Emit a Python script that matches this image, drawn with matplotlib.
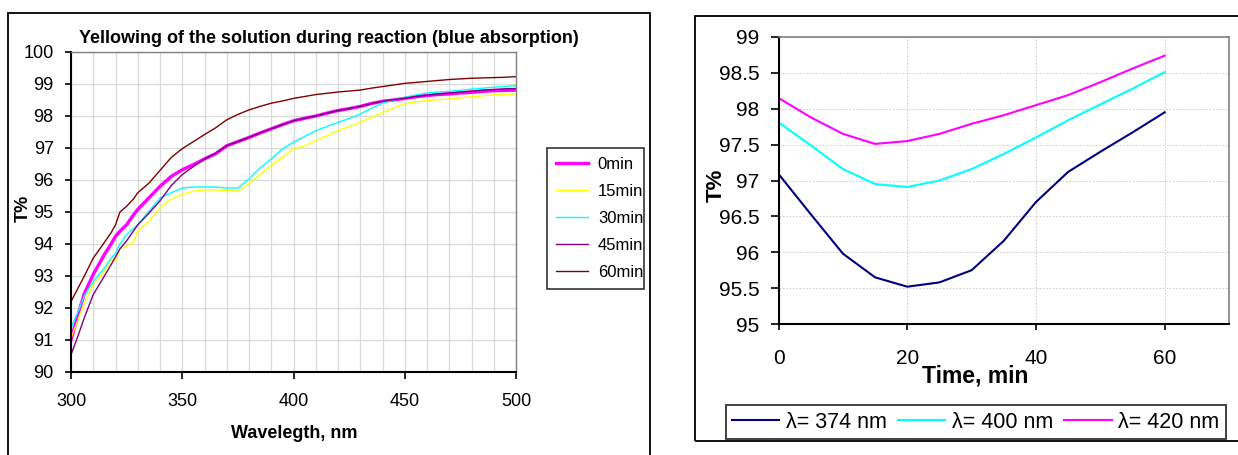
import numpy as np
import matplotlib
matplotlib.use('Agg')
import matplotlib.pyplot as plt
from matplotlib.patches import Rectangle
from matplotlib.ticker import MultipleLocator

plt.rcParams['font.family'] = ['Liberation Sans', 'DejaVu Sans']

W, H = 1238, 455

# ---------------- left panel: spectra ----------------
wavelength = [300, 303, 306, 310, 315, 318, 320, 322, 325, 328, 330, 335, 340, 345,
              350, 355, 360, 365, 370, 375, 380, 385, 390, 395, 400, 405, 410, 415,
              420, 425, 430, 435, 440, 445, 450, 455, 460, 465, 470, 475, 480, 485,
              490, 495, 500]

t_0min = [91.0, 91.75, 92.45, 93.05, 93.67, 94.0, 94.24, 94.4, 94.6, 94.9, 95.08, 95.44,
          95.8, 96.11, 96.32, 96.48, 96.66, 96.82, 97.07, 97.2, 97.33, 97.47, 97.6, 97.73,
          97.85, 97.93, 98.0, 98.09, 98.17, 98.23, 98.3, 98.39, 98.46, 98.5, 98.55, 98.6,
          98.64, 98.67, 98.69, 98.72, 98.74, 98.77, 98.79, 98.8, 98.81]
t_15min = [91.06, 91.6, 92.17, 92.73, 93.15, 93.5, 93.46, 93.85, 93.93, 94.05, 94.4, 94.71,
           95.13, 95.4, 95.55, 95.65, 95.69, 95.69, 95.67, 95.65, 95.88, 96.17, 96.45, 96.71,
           96.97, 97.07, 97.23, 97.38, 97.54, 97.67, 97.8, 97.96, 98.11, 98.25, 98.38, 98.44,
           98.48, 98.51, 98.53, 98.57, 98.6, 98.63, 98.66, 98.68, 98.69]
t_30min = [91.38, 91.86, 92.38, 92.83, 93.25, 93.55, 93.72, 94.0, 94.29, 94.48, 94.6, 95.02,
           95.44, 95.6, 95.75, 95.78, 95.78, 95.78, 95.75, 95.75, 96.03, 96.38, 96.66, 96.97,
           97.18, 97.36, 97.54, 97.67, 97.8, 97.92, 98.06, 98.24, 98.4, 98.5, 98.58, 98.66,
           98.72, 98.75, 98.77, 98.8, 98.84, 98.87, 98.9, 98.92, 98.95]
t_45min = [90.54, 91.1, 91.7, 92.42, 93.0, 93.35, 93.6, 93.85, 94.1, 94.4, 94.6, 94.96,
           95.35, 95.82, 96.17, 96.42, 96.65, 96.84, 97.07, 97.2, 97.33, 97.47, 97.6, 97.73,
           97.85, 97.93, 98.0, 98.09, 98.17, 98.23, 98.3, 98.39, 98.46, 98.51, 98.56, 98.61,
           98.65, 98.69, 98.72, 98.75, 98.78, 98.81, 98.83, 98.85, 98.86]
t_60min = [92.2, 92.6, 93.0, 93.56, 94.05, 94.35, 94.6, 95.0, 95.18, 95.4, 95.6, 95.9,
           96.3, 96.7, 96.98, 97.2, 97.42, 97.63, 97.88, 98.05, 98.19, 98.3, 98.4, 98.47,
           98.55, 98.61, 98.67, 98.71, 98.75, 98.78, 98.81, 98.87, 98.92, 98.97, 99.02, 99.05,
           99.08, 99.11, 99.14, 99.16, 99.18, 99.19, 99.2, 99.21, 99.23]

spec_labels = ['0min', '15min', '30min', '45min', '60min']
spec_colors = ['#FF00FF', '#FFFF00', '#00FFFF', '#800080', '#800000']
spec_widths = [2.4, 1.0, 1.0, 1.0, 1.0]

# ---------------- right panel: kinetics ----------------
time_min = [0, 5, 10, 15, 20, 25, 30, 35, 40, 45, 50, 55, 60]
t_374 = [97.09, 96.53, 95.98, 95.65, 95.52, 95.58, 95.75, 96.16, 96.7, 97.12, 97.4, 97.67, 97.95]
t_400 = [97.81, 97.49, 97.16, 96.95, 96.91, 97.0, 97.16, 97.37, 97.6, 97.84, 98.06, 98.28, 98.51]
t_420 = [98.15, 97.88, 97.65, 97.51, 97.55, 97.65, 97.79, 97.91, 98.05, 98.19, 98.37, 98.56, 98.74]
kin_labels = ['λ= 374 nm', 'λ= 400 nm', 'λ= 420 nm']
kin_colors = ['#000080', '#00FFFF', '#FF00FF']
kin_yticks = [95, 95.5, 96, 96.5, 97, 97.5, 98, 98.5, 99]


def px(x0, y0, x1, y1):
    return [x0 / W, 1 - y1 / H, (x1 - x0) / W, (y1 - y0) / H]


fig = plt.figure(figsize=(W / 100, H / 100), dpi=100)

# outer chart frames
fig.patches.append(Rectangle((8 / W, -0.05), (650 - 8) / W, 1.05 - 13 / H, transform=fig.transFigure,
                             fill=False, ec='black', lw=1.3))
fig.patches.append(Rectangle((695 / W, 1 - 441 / H), (1260 - 695) / W, (441 - 16) / H,
                             transform=fig.transFigure, fill=False, ec='black', lw=1.3,
                             clip_on=False))

# ---- left axes
ax1 = fig.add_axes(px(71, 52, 516, 372))
for vals, lab, col, lw in zip([t_0min, t_15min, t_30min, t_45min, t_60min],
                              spec_labels, spec_colors, spec_widths):
    ax1.plot(wavelength, vals, color=col, lw=lw, label=lab)
ax1.set_xlim(300, 500)
ax1.set_ylim(90, 100)
ax1.set_xticks([300, 350, 400, 450, 500])
ax1.xaxis.set_minor_locator(MultipleLocator(10))
ax1.set_yticks(range(90, 101))
ax1.grid(which='both', color='#d9d9d9', lw=0.9)
ax1.set_axisbelow(True)
ax1.tick_params(which='minor', length=0)
ax1.tick_params(axis='x', which='major', direction='out', length=5, width=1.2, pad=10, labelsize=13)
ax1.tick_params(axis='y', direction='out', length=4.5, width=1.2, pad=8, labelsize=13)
for s in ['top', 'right']:
    ax1.spines[s].set_color('#808080')
    ax1.spines[s].set_linewidth(1.0)
for s in ['left', 'bottom']:
    ax1.spines[s].set_linewidth(1.5)

fig.text(329 / W, 1 - 38.5 / H, 'Yellowing of the solution during reaction (blue absorption)',
         ha='center', va='center', fontsize=13, fontweight='bold')
fig.text(23 / W, 1 - 208 / H, 'T%', rotation=90, ha='center', va='center',
         fontsize=13, fontweight='bold')
fig.text(294 / W, 1 - 434 / H, 'Wavelegth, nm', ha='center', va='center',
         fontsize=13, fontweight='bold')

leg1 = ax1.legend(loc='upper left', bbox_to_anchor=(547 / W, 1 - 290 / H, (644 - 547) / W, (290 - 148) / H),
                  bbox_transform=fig.transFigure, mode='expand', fontsize=12, frameon=True,
                  fancybox=False, edgecolor='black', borderpad=0.55, labelspacing=0.72,
                  handlelength=1.9, handletextpad=0.6, borderaxespad=0)
leg1.get_frame().set_linewidth(1.2)

# ---- right axes
ax2 = fig.add_axes(px(778.6, 37, 1229, 324))
for vals, lab, col in zip([t_374, t_400, t_420], kin_labels, kin_colors):
    ax2.plot(time_min, vals, color=col, lw=1.5, label=lab)
ax2.set_xlim(0, 70)
ax2.set_ylim(95, 99)
ax2.set_xticks([0, 20, 40, 60])
ax2.set_yticks(kin_yticks)
ax2.set_yticklabels([f'{v:g}' for v in kin_yticks])
ax2.grid(color='#c8c8c8', ls=(0, (2, 2)), lw=0.6)
ax2.set_axisbelow(True)
ax2.tick_params(axis='x', direction='out', length=4, width=1.2, pad=14, labelsize=15)
ax2.tick_params(axis='y', direction='out', length=6, width=1.2, pad=8, labelsize=15)
for s in ['top', 'right']:
    ax2.spines[s].set_color('#808080')
    ax2.spines[s].set_linewidth(1.2)
for s in ['left', 'bottom']:
    ax2.spines[s].set_linewidth(1.5)

fig.text(975 / W, 1 - 376 / H, 'Time, min', ha='center', va='center',
         fontsize=16.5, fontweight='bold')
fig.text(716.5 / W, 1 - 185 / H, 'T%', rotation=90, ha='center', va='center',
         fontsize=16, fontweight='bold')

leg2 = ax2.legend(loc='lower left', bbox_to_anchor=(725.5 / W, 1 - 439 / H, (1225.6 - 725.5) / W, (439 - 398.5) / H),
                  bbox_transform=fig.transFigure, mode='expand', ncol=3, fontsize=15.5, frameon=True,
                  fancybox=False, edgecolor='black', borderpad=0.3, handlelength=2.2,
                  handletextpad=0.3, columnspacing=0.5, borderaxespad=0)
leg2.get_frame().set_linewidth(1.3)

fig.savefig('out.png', dpi=100)
